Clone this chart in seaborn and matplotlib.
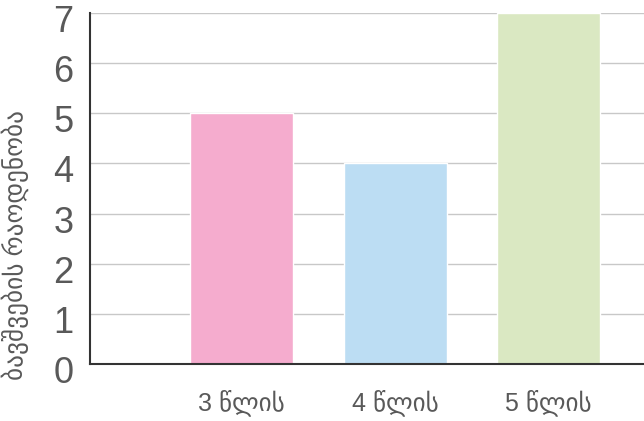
import matplotlib
matplotlib.use("Agg")
import matplotlib.pyplot as plt
import matplotlib.transforms as mtransforms
import seaborn as sns
import pandas as pd

# Number of children by age group
categories = ["3 წლის", "4 წლის", "5 წლის"]
counts = [5, 4, 7]
bar_colors = ["#F5ACCE", "#BCDDF3", "#DAE8C2"]
y_ticks = [0, 1, 2, 3, 4, 5, 6, 7]
y_label = "ბავშვების რაოდენობა"

df = pd.DataFrame({"age": categories, "count": counts})

sns.set_theme(style="white")
plt.rcParams["font.family"] = ["Liberation Sans", "DejaVu Sans"]

fig = plt.figure(figsize=(6.44, 4.21), dpi=100)
ax = fig.add_axes([90 / 644, 1 - 364 / 421, 554 / 644, 351 / 421])

sns.barplot(data=df, x="age", y="count", hue="age", palette=bar_colors,
            width=0.67, legend=False, ax=ax, zorder=3, saturation=1)

ax.set_ylim(0, 7)
ax.set_xlim(-0.987, 2.62)
ax.set_yticks(y_ticks)
ax.yaxis.grid(True, color="#C8C8C8", linewidth=1.0, zorder=0)
ax.set_axisbelow(True)

for side in ["top", "right"]:
    ax.spines[side].set_visible(False)
for side in ["left", "bottom"]:
    ax.spines[side].set_color("#333333")
    ax.spines[side].set_linewidth(1.5)
    ax.spines[side].set_zorder(5)

ax.tick_params(axis="y", length=0, pad=12, labelsize=26, labelcolor="#595959")
ax.tick_params(axis="x", length=0, pad=18, labelsize=18, labelcolor="#595959")

# nudge the y tick labels slightly downward
shift = mtransforms.ScaledTranslation(0, -4 / 72, fig.dpi_scale_trans)
for lbl in ax.get_yticklabels():
    lbl.set_transform(lbl.get_transform() + shift)

ax.set_xlabel("")
ax.set_ylabel(y_label, fontsize=18.2, color="#595959")
ax.yaxis.set_label_coords(-0.11, 0.338)

fig.savefig("out.png", dpi=100)
